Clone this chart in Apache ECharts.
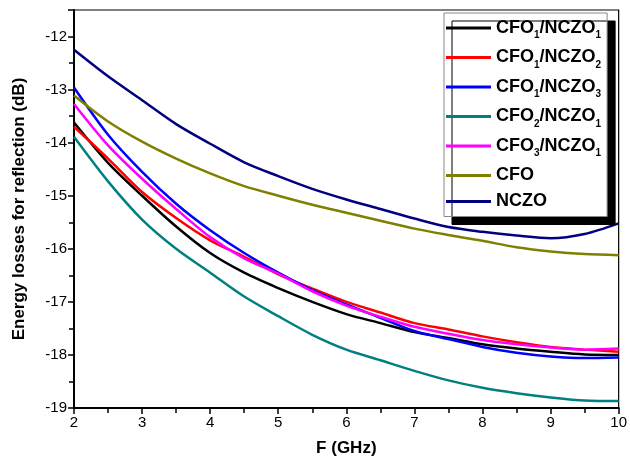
<!DOCTYPE html>
<html><head><meta charset="utf-8">
<script src="https://cdn.jsdelivr.net/npm/echarts@6/dist/echarts.min.js"></script>
<style>html,body{margin:0;padding:0;background:#fff}#c{width:630px;height:462px}</style>
</head><body><div id="c"></div>
<script>
const freq = [2,2.5,3,3.5,4,4.5,5,5.5,6,6.5,7,7.5,8,8.5,9,9.5,10];
const cfo1ncz1 = [-13.62,-14.38,-15.0,-15.58,-16.08,-16.45,-16.74,-17.0,-17.23,-17.4,-17.57,-17.68,-17.8,-17.88,-17.94,-17.99,-18.0];
const cfo1ncz2 = [-13.7,-14.3,-14.93,-15.42,-15.84,-16.15,-16.48,-16.75,-17.0,-17.2,-17.4,-17.52,-17.65,-17.76,-17.85,-17.9,-17.94];
const cfo1ncz3 = [-12.96,-13.85,-14.55,-15.15,-15.65,-16.08,-16.45,-16.78,-17.05,-17.3,-17.55,-17.7,-17.85,-17.96,-18.03,-18.06,-18.05];
const cfo2ncz1 = [-13.89,-14.73,-15.45,-16.0,-16.45,-16.9,-17.27,-17.62,-17.9,-18.1,-18.3,-18.48,-18.62,-18.72,-18.8,-18.86,-18.87];
const cfo3ncz1 = [-13.27,-14.05,-14.68,-15.25,-15.78,-16.18,-16.47,-16.8,-17.07,-17.28,-17.47,-17.6,-17.72,-17.8,-17.86,-17.9,-17.88];
const cfo = [-13.11,-13.6,-13.98,-14.3,-14.58,-14.82,-15.0,-15.17,-15.32,-15.47,-15.62,-15.74,-15.85,-15.97,-16.05,-16.1,-16.12];
const nczo = [-12.25,-12.75,-13.2,-13.65,-14.02,-14.37,-14.63,-14.87,-15.07,-15.25,-15.43,-15.59,-15.68,-15.75,-15.8,-15.72,-15.52];
const names = ['CFO1/NCZO1','CFO1/NCZO2','CFO1/NCZO3','CFO2/NCZO1','CFO3/NCZO1','CFO','NCZO'];
const seriesData = [cfo1ncz1,cfo1ncz2,cfo1ncz3,cfo2ncz1,cfo3ncz1,cfo,nczo];
const colors = ['#000000','#ff0000','#0000ff','#008080','#ff00ff','#808000','#000080'];
const xLabel = 'F (GHz)';
const yLabel = 'Energy losses for reflection (dB)';

const chart = echarts.init(document.getElementById('c'), null, {renderer:'canvas'});
function legendFmt(n){
  const m = n.match(/^CFO(\d)\/NCZO(\d)$/);
  if(!m) return '{a|'+n+'}';
  return '{a|CFO}{s|'+m[1]+'}{a|/NCZO}{s|'+m[2]+'}';
}
const FF = 'Liberation Sans, Arial';
chart.setOption({
  animation:false,
  color: colors,
  grid:{left:74,right:9,top:10,bottom:48,show:true,borderColor:'#000',borderWidth:1.2},
  legend:{
    left:444, top:13, orient:'vertical', width:150,
    padding:[6,6,6,2], itemGap:8, itemWidth:45, itemHeight:3, icon:'rect',
    backgroundColor:'#fff', borderColor:'#888', borderWidth:1,
    shadowColor:'#000', shadowBlur:0, shadowOffsetX:8, shadowOffsetY:8,
    data:names,
    formatter: legendFmt,
    textStyle:{
      fontFamily:FF, fontWeight:'bold', fontSize:18, color:'#000',
      rich:{
        a:{fontFamily:FF, fontWeight:'bold', fontSize:18, color:'#000'},
        s:{fontFamily:FF, fontWeight:'bold', fontSize:10, color:'#000', padding:[15,0,0,0]}
      }
    }
  },
  xAxis:{
    type:'value', min:2, max:10, interval:1,
    name:xLabel, nameLocation:'middle', nameGap:32,
    nameTextStyle:{fontFamily:FF, fontWeight:'bold', fontSize:17, color:'#000'},
    axisLine:{lineStyle:{color:'#000',width:2}},
    axisTick:{show:true,inside:false,length:6,lineStyle:{color:'#000',width:1.5}},
    minorTick:{show:true,splitNumber:2,length:5,lineStyle:{color:'#000',width:1.5}},
    axisLabel:{fontFamily:FF, fontSize:15, color:'#000', margin:7},
    splitLine:{show:false}
  },
  yAxis:{
    type:'value', min:-19, max:-11.5, interval:1,
    name:yLabel, nameLocation:'middle', nameGap:46,
    nameTextStyle:{fontFamily:FF, fontWeight:'bold', fontSize:17, color:'#000'},
    axisLine:{lineStyle:{color:'#000',width:2}},
    axisTick:{show:true,inside:false,length:6,lineStyle:{color:'#000',width:1.5}},
    minorTick:{show:true,splitNumber:2,length:5,lineStyle:{color:'#000',width:1.5}},
    axisLabel:{fontFamily:FF, fontSize:15, color:'#000', margin:7, showMaxLabel:false},
    splitLine:{show:false}
  },
  series: names.map((n,i)=>({
    name:n, type:'line', showSymbol:false, symbol:'none', smooth:0.3,
    lineStyle:{width:2.5,color:colors[i]},
    data: freq.map((f,j)=>[f,seriesData[i][j]])
  }))
});
</script></body></html>
